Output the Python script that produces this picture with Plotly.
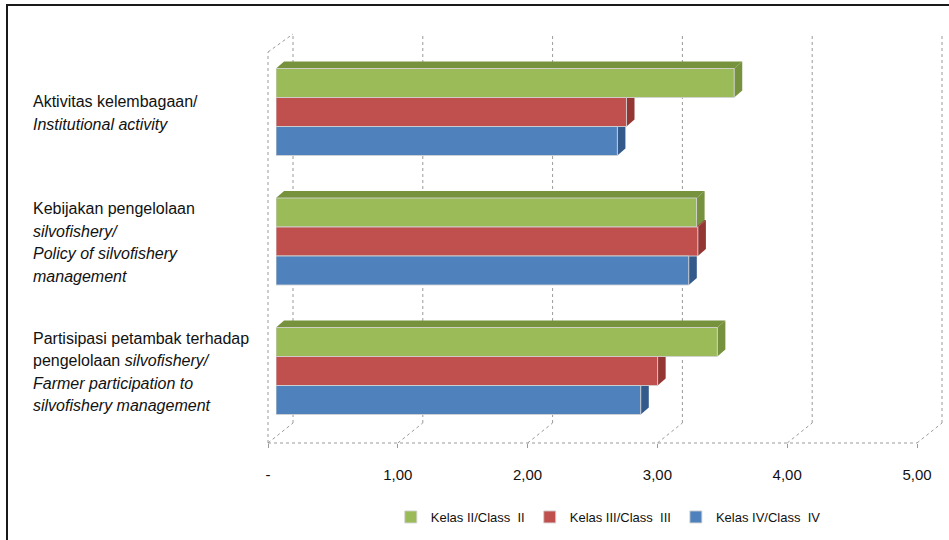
import plotly.graph_objects as go

# ---------------- data ----------------
categories = [
    ["Aktivitas kelembagaan/", "<i>Institutional activity</i>"],
    ["Kebijakan pengelolaan", "<i>silvofishery/</i>", "<i>Policy of silvofishery</i>", "<i>management</i>"],
    ["Partisipasi petambak terhadap", "pengelolaan <i>silvofishery/</i>", "<i>Farmer participation to</i>",
     "<i>silvofishery management</i>"],
]
series_names = ["Kelas II/Class  II", "Kelas III/Class  III", "Kelas IV/Class  IV"]
class_2 = [3.53, 3.24, 3.40]
class_3 = [2.70, 3.25, 2.94]
class_4 = [2.63, 3.18, 2.81]
tick_vals = [0, 1, 2, 3, 4, 5]
tick_text = ["-", "1,00", "2,00", "3,00", "4,00", "5,00"]

# ---------------- style ----------------
W, H = 949, 540
front_cols = ["#9BBB59", "#C0504D", "#4F81BD"]
side_cols = ["#76923C", "#943634", "#345A8C"]
FONT = "Liberation Sans"
BAR_W = 0.224
DX = 0.062   # 3D depth of bars (x data units)
DY = 0.054   # 3D depth of bars (y data units)

# geometry (pixels) of planes
FX0, FX1, FY, FTOP = 268, 917, 443, 52      # front plane
BX0, BX1, BY, BTOP = 293, 942, 423, 34      # back plane
PX0, PX1, PYB, PYT = 276, 925, 437, 46      # bar plane


def px(x):
    return x / W


def py(y):
    return 1 - y / H


n = len(categories)
pos = [n - 1 - i for i in range(n)]   # top-to-bottom
series = [class_2, class_3, class_4]
offsets = [0.5 * BAR_W, -0.5 * BAR_W, -1.5 * BAR_W]

fig = go.Figure()

# invisible traces to create the front / back subplots
fig.add_trace(go.Scatter(x=[None], y=[None], xaxis="x", yaxis="y", showlegend=False, hoverinfo="skip"))
fig.add_trace(go.Scatter(x=[None], y=[None], xaxis="x2", yaxis="y2", showlegend=False, hoverinfo="skip"))

shapes = []
# 3D side/top faces of bars (drawn under the bar front faces)
for s_idx in [2, 1, 0]:
    vals = series[s_idx]
    for p, v in zip(pos, vals):
        b = p + offsets[s_idx]
        t = b + BAR_W
        side = f"M {v},{b} L {v + DX},{b + DY} L {v + DX},{t + DY} L {v},{t} Z"
        top = f"M 0,{t} L {v},{t} L {v + DX},{t + DY} L {DX},{t + DY} Z"
        for path in (side, top):
            shapes.append(dict(type="path", path=path, xref="x3", yref="y3",
                               fillcolor=side_cols[s_idx], line=dict(width=0), layer="between"))

for s_idx in range(3):
    fig.add_trace(go.Bar(
        x=series[s_idx], y=pos, orientation="h", name=series_names[s_idx],
        width=BAR_W, offset=offsets[s_idx],
        marker=dict(color=front_cols[s_idx], line=dict(color="rgba(210,210,210,0.9)", width=1)),
        xaxis="x3", yaxis="y3",
    ))

# floor and wall lines
grid_line = dict(color="#9a9a9a", width=1, dash="dot")
shapes.append(dict(type="line", xref="paper", yref="paper", x0=px(FX0), x1=px(FX1), y0=py(FY), y1=py(FY),
                   line=grid_line, layer="below"))
shapes.append(dict(type="line", xref="paper", yref="paper", x0=px(FX0), x1=px(FX0), y0=py(FY), y1=py(FTOP),
                   line=grid_line, layer="below"))
shapes.append(dict(type="line", xref="paper", yref="paper", x0=px(FX0), x1=px(BX0), y0=py(FTOP), y1=py(BTOP),
                   line=grid_line, layer="below"))
for k in range(len(tick_vals)):
    fx = FX0 + (FX1 - FX0) * k / 5
    bx = BX0 + (BX1 - BX0) * k / 5
    shapes.append(dict(type="line", xref="paper", yref="paper", x0=px(fx), x1=px(bx), y0=py(FY), y1=py(BY),
                       line=grid_line, layer="below"))
    shapes.append(dict(type="line", xref="paper", yref="paper", x0=px(bx), x1=px(bx), y0=py(BY), y1=py(BTOP),
                       line=grid_line, layer="below"))

# chart frame
shapes.append(dict(type="rect", xref="paper", yref="paper", x0=px(7), x1=1.02, y0=-0.05, y1=py(5),
                   line=dict(color="#1a1a1a", width=2), fillcolor="rgba(0,0,0,0)", layer="above"))

# category labels (left aligned, multi-line)
annotations = []
LINE_H = 22.5
for p, lines in zip(pos, categories):
    m = len(lines)
    for i, ln in enumerate(lines):
        annotations.append(dict(
            text=ln, xref="paper", yref="y3", x=px(31), y=p, xanchor="left", yanchor="middle",
            yshift=((m - 1) / 2 - i) * LINE_H - 1, showarrow=False,
            font=dict(family=FONT, size=16, color="#111111"), align="left"))

hidden = dict(visible=False, automargin=False)
fig.update_layout(
    width=W, height=H, autosize=False, margin=dict(l=0, r=0, t=0, b=0, autoexpand=False),
    paper_bgcolor="white", plot_bgcolor="rgba(0,0,0,0)",
    font=dict(family=FONT, size=15, color="#111111"),
    showlegend=True,
    legend=dict(orientation="h", x=0.641, xanchor="center", y=py(517), yanchor="middle",
                font=dict(family=FONT, size=13, color="#111111"), traceorder="normal",
                itemwidth=30),
    xaxis=dict(domain=[px(FX0), px(FX1)], range=[0, 5], tickvals=tick_vals, ticktext=tick_text,
               showgrid=False, zeroline=False, showline=False, anchor="y", automargin=False,
               ticks="outside", ticklen=4, tickcolor="#9a9a9a", ticklabelstandoff=14,
               tickfont=dict(family=FONT, size=15, color="#111111"), fixedrange=True),
    yaxis=dict(domain=[py(FY), py(FTOP)], range=[0, 1], anchor="x", **hidden),
    xaxis2=dict(domain=[px(BX0), px(BX1)], range=[0, 5], anchor="y2", **hidden),
    yaxis2=dict(domain=[py(BY), py(BTOP)], range=[0, 1], anchor="x2", **hidden),
    xaxis3=dict(domain=[px(PX0), px(PX1)], range=[0, 5], anchor="y3", **hidden),
    yaxis3=dict(domain=[py(PYB), py(PYT)], range=[-0.5097, 2.5097], anchor="x3", **hidden),
    shapes=shapes, annotations=annotations,
    barmode="overlay",
)

fig.write_html("out.html")
